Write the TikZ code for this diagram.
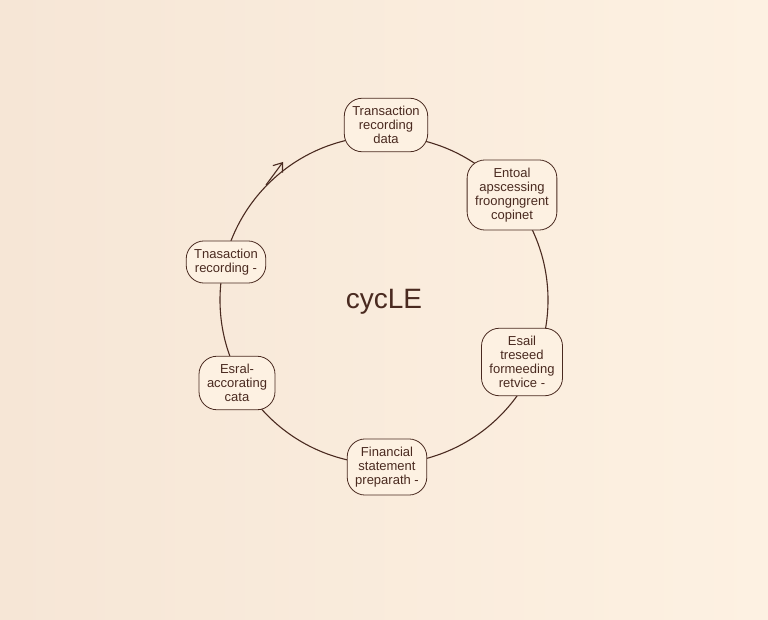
\documentclass[tikz,border=0pt]{standalone}
\usepackage{fontspec}
\setmainfont{Liberation Sans}
\usetikzlibrary{arrows.meta}
\definecolor{bgA}{HTML}{F6E6D6}
\definecolor{bgB}{HTML}{FDF1E2}
\definecolor{ink}{HTML}{4A2A20}
\tikzset{
  stage/.style={draw=ink, line width=0.8pt, fill=bgB, rounded corners=18pt, align=center, inner sep=8pt, font=\fontsize{13}{14}\selectfont, text=ink},
  ring/.style={draw=ink, line width=1.1pt}
}
\begin{document}
\begin{tikzpicture}[x=1pt,y=1pt]
\shade[left color=bgA, right color=bgB] (0,0) rectangle (768,-620);
\useasboundingbox (0,0) rectangle (768,-620);
\coordinate (c) at (384,-300);
\draw[ring] (c) circle (164);
\node[stage] (n1) at (386,-125) {Transaction\\recording\\data};
\node[stage] (n2) at (512,-195) {Entoal\\apscessing\\froongngrent\\copinet};
\node[stage] (n3) at (522,-362) {Esail\\treseed\\formeeding\\retvice -};
\node[stage] (n4) at (387,-467) {Financial\\statement\\preparath -};
\node[stage] (n5) at (237,-383) {Esral-\\accorating\\cata};
\node[stage] (n6) at (226,-262) {Tnasaction\\recording -};
\node[text=ink, font=\fontsize{28}{30}\selectfont] (t) at (384,-302) {cycLE};
\coordinate (a0) at (266,-185);
\coordinate (a1) at (283,-162);
\draw[ring, -{Straight Barb[length=8pt,width=12pt]}] (a0) -- (a1);
\end{tikzpicture}
\end{document}
